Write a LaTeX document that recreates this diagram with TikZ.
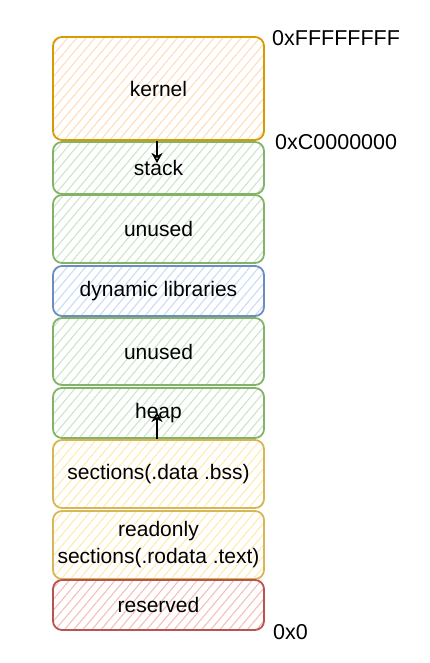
\documentclass[tikz,border=0pt]{standalone}
\usepackage{fontspec}
\setmainfont{Liberation Sans}
\usetikzlibrary{patterns.meta,arrows.meta}
\definecolor{orS}{HTML}{D79B00}\definecolor{orF}{HTML}{FFDDBB}
\definecolor{grS}{HTML}{82B366}\definecolor{grF}{HTML}{CCE4C9}
\definecolor{blS}{HTML}{6C8EBF}\definecolor{blF}{HTML}{C8DCF8}
\definecolor{yeS}{HTML}{D6B656}\definecolor{yeF}{HTML}{FFEBB0}
\definecolor{reS}{HTML}{B85450}\definecolor{reF}{HTML}{F5BEBB}
\tikzset{
  seg/.style n args={2}{draw=#1, line width=1.8pt, rounded corners=9pt,
    pattern={Lines[angle=50,distance=7pt,line width=1.1pt]}, pattern color=#2,
    minimum width=211pt, inner sep=0pt, align=center,
    font=\fontsize{21}{27}\selectfont, text=black},
  addr/.style={anchor=west, font=\fontsize{21.5}{24}\selectfont, text=black, inner sep=0pt},
  growarrow/.style={-{Stealth[open,length=10pt,width=11pt,inset=3pt]}, line width=1.6pt, black}
}
\begin{document}
\begin{tikzpicture}[x=1pt,y=-1pt]
\useasboundingbox (0,0) rectangle (429,663);
\node[seg={orS}{orF}, minimum height=103pt] (kernel) at (158.5,88.5) {kernel};
\node[seg={grS}{grF}, minimum height=52pt] (stack) at (158.5,168) {stack};
\node[seg={grS}{grF}, minimum height=68pt] (unusedA) at (158.5,229) {unused};
\node[seg={blS}{blF}, minimum height=50pt] (dyn) at (158.5,291) {dynamic libraries};
\node[seg={grS}{grF}, minimum height=67pt] (unusedB) at (158.5,351.5) {unused};
\node[seg={grS}{grF}, minimum height=50pt] (heap) at (158.5,413) {heap};
\node[seg={yeS}{yeF}, minimum height=68pt] (data) at (158.5,474) {sections(.data .bss)};
\node[seg={yeS}{yeF}, minimum height=68pt] (ro) at (158.5,545) {readonly\\sections(.rodata .text)};
\node[seg={reS}{reF}, minimum height=50pt] (res) at (158.5,605) {reserved};
\coordinate (stacktip) at (157,163);
\coordinate (heaptip) at (157,412);
\coordinate (kbot) at (157,141);
\coordinate (dtop) at (157,439);
\draw[growarrow] (kbot) -- (stacktip);
\draw[growarrow] (dtop) -- (heaptip);
\node[addr] (aF) at (272,38) {0xFFFFFFFF};
\node[addr] (aC) at (275,142) {0xC0000000};
\node[addr] (a0) at (273,632) {0x0};
\end{tikzpicture}
\end{document}
